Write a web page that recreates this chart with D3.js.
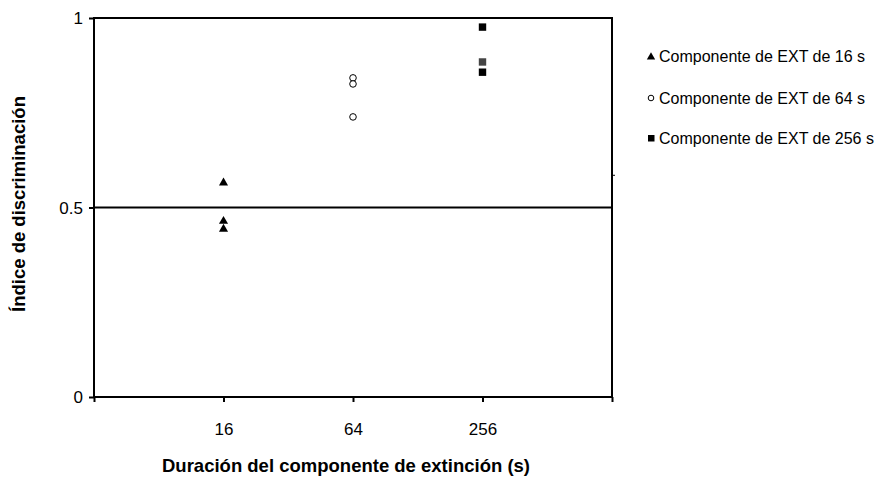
<!DOCTYPE html>
<html><head><meta charset="utf-8">
<script src="https://cdn.jsdelivr.net/npm/d3@7"></script>
<style>body{margin:0;background:#fff;font-family:'Liberation Sans',Arial,sans-serif;}</style>
</head><body><div id="chart"></div>
<script>
// categories and series values
var categories = ['16', '64', '256'];
var ext16 = [0.565, 0.464, 0.443];
var ext64 = [0.842, 0.826, 0.739];
var ext256 = [0.976, 0.884, 0.857];
var ext256Colors = ['#000', '#444', '#000'];
var yTicks = [0, 0.5, 1];
var legendLabels = ['Componente de EXT de 16 s', 'Componente de EXT de 64 s', 'Componente de EXT de 256 s'];

var W = 874, H = 482;
var margin = {left: 94, top: 18, right: 262, bottom: 85};
var width = W - margin.left - margin.right, height = H - margin.top - margin.bottom;

var svg = d3.select('#chart').append('svg').attr('width', W).attr('height', H);
var g = svg.append('g').attr('transform', 'translate(' + margin.left + ',' + margin.top + ')');

var x = d3.scaleLinear().domain([0, 4]).range([0, width]);
var y = d3.scaleLinear().domain([0, 1]).range([height, 0]);

// frame
g.append('rect').attr('width', width).attr('height', height)
  .attr('fill', 'none').attr('stroke', '#000').attr('stroke-width', 2);
g.append('line').attr('x1', 0).attr('x2', width).attr('y1', y(0.5)).attr('y2', y(0.5))
  .attr('stroke', '#000').attr('stroke-width', 2);
g.append('line').attr('x1', width).attr('x2', width + 3).attr('y1', y(0.585)).attr('y2', y(0.585))
  .attr('stroke', '#000').attr('stroke-width', 1);

var tickFont = '17px "Liberation Sans",Arial';
var yaxis = d3.axisLeft(y).tickValues(yTicks).tickFormat(d3.format('')).tickSize(5);
g.append('g').call(yaxis).call(a => a.select('.domain').remove())
  .call(a => a.selectAll('line').attr('stroke-width', 2))
  .call(a => a.selectAll('text').style('font', tickFont).attr('dy', '0.35em').attr('x', -11));

var xaxis = d3.axisBottom(x).tickValues([0, 1, 2, 3, 4]).tickFormat(d => categories[d - 1] || '').tickSize(5);
g.append('g').attr('transform', 'translate(0,' + height + ')').call(xaxis)
  .call(a => a.select('.domain').remove())
  .call(a => a.selectAll('line').attr('stroke-width', 2))
  .call(a => a.selectAll('text').style('font', tickFont).attr('dy', 0).attr('y', 38));

// markers
var tri = d3.symbol().type(d3.symbolTriangle).size(36);
g.selectAll('.t').data(ext16).enter().append('path')
  .attr('d', tri).attr('transform', d => 'translate(' + x(1) + ',' + y(d) + ')');
g.selectAll('.c').data(ext64).enter().append('circle')
  .attr('cx', x(2)).attr('cy', d => y(d)).attr('r', 3.3)
  .attr('fill', '#fff').attr('stroke', '#000').attr('stroke-width', 1);
g.selectAll('.s').data(ext256).enter().append('rect')
  .attr('x', x(3) - 3.7).attr('y', d => y(d) - 3.7).attr('width', 7.4).attr('height', 7.4)
  .attr('fill', (d, i) => ext256Colors[i]);

// axis titles
var titleFont = 'bold 18.5px "Liberation Sans",Arial';
svg.append('text').attr('x', 346).attr('y', 472)
  .attr('text-anchor', 'middle').style('font', titleFont)
  .text('Duración del componente de extinción (s)');
svg.append('text').attr('transform', 'translate(25,204) rotate(-90)')
  .attr('text-anchor', 'middle').style('font', titleFont)
  .text('Índice de discriminación');

// legend
var leg = svg.append('g').attr('transform', 'translate(651,56)');
legendLabels.forEach(function(t, i) {
  var row = leg.append('g').attr('transform', 'translate(0,' + [0, 42, 82][i] + ')');
  if (i == 0) row.append('path').attr('d', d3.symbol().type(d3.symbolTriangle).size(30)).attr('transform', 'translate(0,1)');
  else if (i == 1) row.append('circle').attr('r', 2.8).attr('fill', '#fff').attr('stroke', '#000');
  else row.append('rect').attr('x', -3).attr('y', -3).attr('width', 6.5).attr('height', 6.5);
  row.append('text').attr('x', 8).attr('dy', '0.35em')
    .style('font', '16px "Liberation Sans",Arial').text(t);
});
</script></body></html>
